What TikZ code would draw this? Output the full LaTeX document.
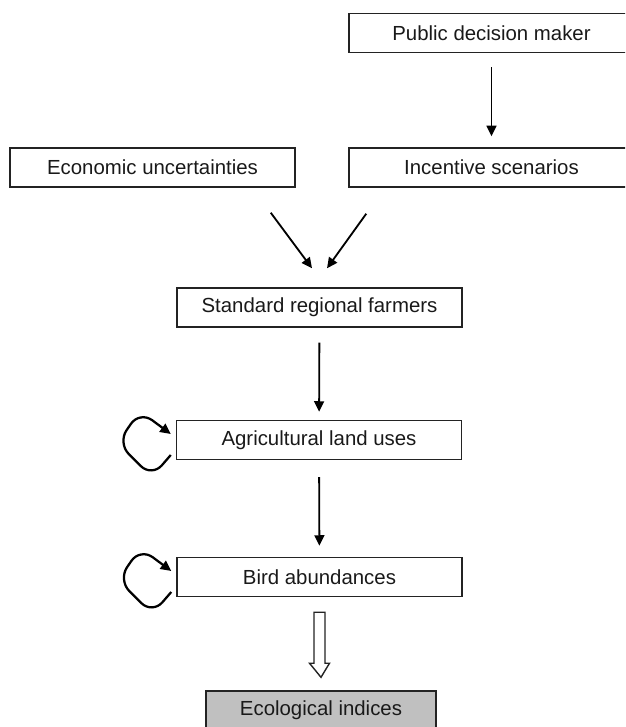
\documentclass[tikz,border=0pt]{standalone}
\usepackage{fontspec}
\setmainfont{Liberation Sans}
\usetikzlibrary{arrows.meta, calc}
\definecolor{cLine}{RGB}{35,35,35}
\definecolor{cFillGray}{RGB}{192,192,192}
\tikzset{
  stage/.style={rectangle, draw=cLine, line width=1pt, minimum width=7.125cm,
                minimum height=0.975cm, inner sep=2pt, text=black!90,
                font=\fontsize{14.5}{16}\selectfont},
  stageG/.style={stage, fill=cFillGray, minimum width=5.75cm},
  flowarrow/.style={-{Triangle[length=7.5pt, width=7pt]}, draw=black, line width=1.3pt},
  selfarrow/.style={flowarrow, line width=1.6pt, rounded corners=11pt},
  hollowarrow/.style={draw=cLine, fill=white, line width=1pt, line join=miter},
}

\begin{document}
\begin{tikzpicture}[x=0.025cm, y=-0.025cm]

%% ============================================================
%%  FRAME (boxes on the right and bottom run past the edge)
%% ============================================================
\clip (0,0) rectangle (625,727);

%% ----- Decision level -----
\node[stage] (public)    at (491.5, 33)    {Public decision maker};
\node[stage] (econ)      at (152.5, 167.5) {Economic uncertainties};
\node[stage] (incentive) at (491.5, 167.5) {Incentive scenarios};

%% ----- Farm and landscape level -----
\node[stage] (farmers) at (319.5, 307.5) {Standard regional farmers};
\node[stage] (agri)    at (319, 440)     {Agricultural land uses};
\node[stage] (bird)    at (319.5, 577)   {Bird abundances};

%% ----- Output -----
\node[stageG] (eco) at (321, 710.5) {Ecological indices};

%% ============================================================
%%  Connectors
%% ============================================================
\draw[flowarrow, shorten <=0.35cm, shorten >=0.275cm] (public) -- (incentive);

\coordinate (econOut) at ($(econ.south east)+(-25,25)$);
\coordinate (incOut)  at ($(incentive.south west)+(18,26)$);
\coordinate (farmInL) at ($(farmers.north)+(-7.5,-19)$);
\coordinate (farmInR) at ($(farmers.north)+(7.5,-19)$);
\draw[flowarrow] (econOut) -- (farmInL);
\draw[flowarrow] (incOut) -- (farmInR);

\draw[flowarrow, shorten <=0.375cm, shorten >=0.2cm] (farmers) -- (agri);
\draw[flowarrow, shorten <=0.425cm, shorten >=0.275cm] (agri) -- (bird);

%% self loops on the left side
\foreach \n in {agri, bird} {
  \draw[selfarrow] ($(\n.west)+(-5,15)$) -- ($(\n.west)+(-24,37)$)
    -- ($(\n.west)+(-58,3)$) -- ($(\n.west)+(-36,-29)$) -- ($(\n.west)+(-5,-6)$);
}

%% hollow arrow to the indices
\coordinate (hTop) at ($(bird.south)+(0,15)$);
\coordinate (hTip) at ($(eco.north)+(0,-13)$);
\draw[hollowarrow] ($(hTop)+(-5.5,0)$) -- ($(hTop)+(5.5,0)$) -- ($(hTop)+(5.5,51)$)
  -- ($(hTop)+(10,51)$) -- (hTip) -- ($(hTop)+(-10,51)$)
  -- ($(hTop)+(-5.5,51)$) -- cycle;

\end{tikzpicture}
\end{document}
